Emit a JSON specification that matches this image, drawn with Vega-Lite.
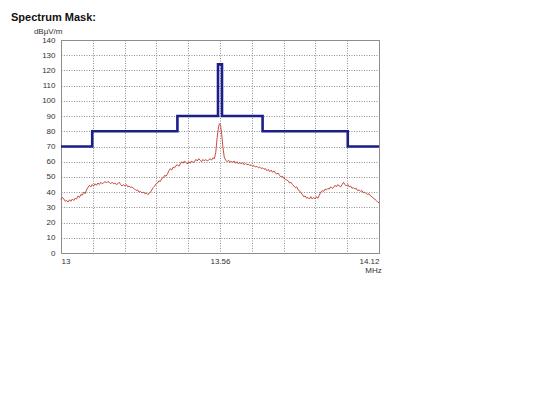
{
  "$schema": "https://vega.github.io/schema/vega-lite/v6.json",
  "autosize": {"type": "none"},
  "width": 318,
  "height": 213,
  "padding": {"left": 61, "top": 40, "right": 161, "bottom": 152},
  "background": "white",
  "title": {"text": "Spectrum Mask:", "anchor": "start", "frame": "group", "dx": -50, "offset": 4, "font": "Liberation Sans", "fontSize": 11, "fontWeight": "bold", "color": "#111111"},
  "config": {
    "view": {"stroke": "#8c8c8c", "strokeWidth": 1},
    "font": "Liberation Sans"
  },
  "datasets": {
    "mask": [
      {"f": 13.0, "db": 70},
      {"f": 13.11, "db": 80},
      {"f": 13.41, "db": 90},
      {"f": 13.553, "db": 124},
      {"f": 13.567, "db": 90},
      {"f": 13.71, "db": 80},
      {"f": 14.01, "db": 70},
      {"f": 14.12, "db": 70}
    ],
    "trace": [
      {"f": 13.0, "db": 35}, {"f": 13.005, "db": 36.5}, {"f": 13.01, "db": 35.5}, {"f": 13.015, "db": 34}, {"f": 13.02, "db": 34.5}, {"f": 13.025, "db": 33.5},
      {"f": 13.03, "db": 35}, {"f": 13.035, "db": 34}, {"f": 13.04, "db": 35.5}, {"f": 13.045, "db": 34.5}, {"f": 13.05, "db": 36}, {"f": 13.055, "db": 35.5},
      {"f": 13.06, "db": 37.5}, {"f": 13.065, "db": 36.5}, {"f": 13.07, "db": 38.5}, {"f": 13.075, "db": 38}, {"f": 13.08, "db": 40}, {"f": 13.085, "db": 39},
      {"f": 13.09, "db": 41.5}, {"f": 13.095, "db": 43}, {"f": 13.1, "db": 44.5}, {"f": 13.105, "db": 43.5}, {"f": 13.11, "db": 45}, {"f": 13.115, "db": 44},
      {"f": 13.12, "db": 45.5}, {"f": 13.125, "db": 44.5}, {"f": 13.13, "db": 46}, {"f": 13.135, "db": 45}, {"f": 13.14, "db": 46.5}, {"f": 13.145, "db": 45.5},
      {"f": 13.15, "db": 46}, {"f": 13.155, "db": 47}, {"f": 13.16, "db": 46}, {"f": 13.165, "db": 47}, {"f": 13.17, "db": 46.5}, {"f": 13.175, "db": 45.5},
      {"f": 13.18, "db": 46.5}, {"f": 13.185, "db": 45.5}, {"f": 13.19, "db": 46}, {"f": 13.195, "db": 45}, {"f": 13.2, "db": 45.5}, {"f": 13.205, "db": 46.5},
      {"f": 13.21, "db": 45}, {"f": 13.215, "db": 44}, {"f": 13.22, "db": 45}, {"f": 13.225, "db": 44}, {"f": 13.23, "db": 45}, {"f": 13.235, "db": 43.5},
      {"f": 13.24, "db": 44}, {"f": 13.245, "db": 43}, {"f": 13.25, "db": 43.5}, {"f": 13.255, "db": 42.5}, {"f": 13.26, "db": 42}, {"f": 13.265, "db": 41},
      {"f": 13.27, "db": 41.5}, {"f": 13.275, "db": 40}, {"f": 13.28, "db": 40.5}, {"f": 13.285, "db": 39.5}, {"f": 13.29, "db": 40}, {"f": 13.295, "db": 39},
      {"f": 13.3, "db": 39.5}, {"f": 13.305, "db": 38.5}, {"f": 13.31, "db": 39}, {"f": 13.315, "db": 40}, {"f": 13.32, "db": 41.5}, {"f": 13.325, "db": 43},
      {"f": 13.33, "db": 44}, {"f": 13.335, "db": 45.5}, {"f": 13.34, "db": 46}, {"f": 13.345, "db": 47.5}, {"f": 13.35, "db": 47}, {"f": 13.355, "db": 49},
      {"f": 13.36, "db": 49.5}, {"f": 13.365, "db": 51}, {"f": 13.37, "db": 50.5}, {"f": 13.375, "db": 52}, {"f": 13.38, "db": 54}, {"f": 13.385, "db": 55.5},
      {"f": 13.39, "db": 54.5}, {"f": 13.395, "db": 56.5}, {"f": 13.4, "db": 56}, {"f": 13.405, "db": 57.5}, {"f": 13.41, "db": 58}, {"f": 13.415, "db": 57},
      {"f": 13.42, "db": 58.5}, {"f": 13.425, "db": 60}, {"f": 13.43, "db": 59}, {"f": 13.435, "db": 60.5}, {"f": 13.44, "db": 59.5}, {"f": 13.445, "db": 58.5},
      {"f": 13.45, "db": 60}, {"f": 13.455, "db": 59}, {"f": 13.46, "db": 60.5}, {"f": 13.465, "db": 59.5}, {"f": 13.47, "db": 60}, {"f": 13.475, "db": 61.5},
      {"f": 13.48, "db": 60.5}, {"f": 13.485, "db": 62}, {"f": 13.49, "db": 61}, {"f": 13.495, "db": 60}, {"f": 13.5, "db": 61.5}, {"f": 13.505, "db": 60.5},
      {"f": 13.51, "db": 61.5}, {"f": 13.515, "db": 60.5}, {"f": 13.52, "db": 61}, {"f": 13.525, "db": 62}, {"f": 13.53, "db": 61}, {"f": 13.535, "db": 62.5},
      {"f": 13.54, "db": 62}, {"f": 13.545, "db": 66}, {"f": 13.55, "db": 76}, {"f": 13.555, "db": 83}, {"f": 13.558, "db": 85}, {"f": 13.562, "db": 84},
      {"f": 13.566, "db": 78}, {"f": 13.57, "db": 70}, {"f": 13.575, "db": 63}, {"f": 13.58, "db": 61}, {"f": 13.585, "db": 60}, {"f": 13.59, "db": 61},
      {"f": 13.595, "db": 59.5}, {"f": 13.6, "db": 60.5}, {"f": 13.605, "db": 59.5}, {"f": 13.61, "db": 60.5}, {"f": 13.615, "db": 59}, {"f": 13.62, "db": 60},
      {"f": 13.625, "db": 58.5}, {"f": 13.63, "db": 59.5}, {"f": 13.635, "db": 58.5}, {"f": 13.64, "db": 59.5}, {"f": 13.645, "db": 58}, {"f": 13.65, "db": 59},
      {"f": 13.655, "db": 58}, {"f": 13.66, "db": 58.5}, {"f": 13.665, "db": 57.5}, {"f": 13.67, "db": 58}, {"f": 13.675, "db": 57}, {"f": 13.68, "db": 57.5},
      {"f": 13.685, "db": 56.5}, {"f": 13.69, "db": 57}, {"f": 13.695, "db": 56}, {"f": 13.7, "db": 56.5}, {"f": 13.705, "db": 55.5}, {"f": 13.71, "db": 56},
      {"f": 13.715, "db": 55}, {"f": 13.72, "db": 55.5}, {"f": 13.725, "db": 54}, {"f": 13.73, "db": 55}, {"f": 13.735, "db": 53.5}, {"f": 13.74, "db": 54.5},
      {"f": 13.745, "db": 53}, {"f": 13.75, "db": 54}, {"f": 13.755, "db": 52.5}, {"f": 13.76, "db": 52}, {"f": 13.765, "db": 52.5}, {"f": 13.77, "db": 51},
      {"f": 13.775, "db": 50}, {"f": 13.78, "db": 50.5}, {"f": 13.785, "db": 49}, {"f": 13.79, "db": 48.5}, {"f": 13.795, "db": 48}, {"f": 13.8, "db": 47.5},
      {"f": 13.805, "db": 46}, {"f": 13.81, "db": 46.5}, {"f": 13.815, "db": 45}, {"f": 13.82, "db": 44}, {"f": 13.825, "db": 43}, {"f": 13.83, "db": 43.5},
      {"f": 13.835, "db": 41.5}, {"f": 13.84, "db": 41}, {"f": 13.845, "db": 39.5}, {"f": 13.85, "db": 38.5}, {"f": 13.855, "db": 37}, {"f": 13.86, "db": 37.5},
      {"f": 13.865, "db": 36}, {"f": 13.87, "db": 36.5}, {"f": 13.875, "db": 35.5}, {"f": 13.88, "db": 37}, {"f": 13.885, "db": 35.5}, {"f": 13.89, "db": 36.5},
      {"f": 13.895, "db": 35.5}, {"f": 13.9, "db": 37}, {"f": 13.905, "db": 36}, {"f": 13.91, "db": 38}, {"f": 13.915, "db": 40}, {"f": 13.92, "db": 41},
      {"f": 13.925, "db": 40.5}, {"f": 13.93, "db": 42}, {"f": 13.935, "db": 41.5}, {"f": 13.94, "db": 42.5}, {"f": 13.945, "db": 42}, {"f": 13.95, "db": 43.5},
      {"f": 13.955, "db": 42.5}, {"f": 13.96, "db": 43}, {"f": 13.965, "db": 44.5}, {"f": 13.97, "db": 43.5}, {"f": 13.975, "db": 45}, {"f": 13.98, "db": 44},
      {"f": 13.985, "db": 43.5}, {"f": 13.99, "db": 45}, {"f": 13.995, "db": 46.5}, {"f": 14.0, "db": 45}, {"f": 14.005, "db": 44}, {"f": 14.01, "db": 45},
      {"f": 14.015, "db": 43.5}, {"f": 14.02, "db": 44}, {"f": 14.025, "db": 42.5}, {"f": 14.03, "db": 43}, {"f": 14.035, "db": 42}, {"f": 14.04, "db": 42.5},
      {"f": 14.045, "db": 41}, {"f": 14.05, "db": 41.5}, {"f": 14.055, "db": 40.5}, {"f": 14.06, "db": 41}, {"f": 14.065, "db": 39.5}, {"f": 14.07, "db": 40},
      {"f": 14.075, "db": 39}, {"f": 14.08, "db": 38.5}, {"f": 14.085, "db": 39}, {"f": 14.09, "db": 37.5}, {"f": 14.095, "db": 37}, {"f": 14.1, "db": 36},
      {"f": 14.105, "db": 35.5}, {"f": 14.11, "db": 34.5}, {"f": 14.115, "db": 33.5}, {"f": 14.12, "db": 33}
    ]
  },
  "encoding": {
    "x": {
      "field": "f",
      "type": "quantitative",
      "scale": {"domain": [13, 14.12], "nice": false, "zero": false},
      "axis": {
        "values": [13, 13.112, 13.224, 13.336, 13.448, 13.56, 13.672, 13.784, 13.896, 14.008, 14.12],
        "labelExpr": "abs(datum.value-13)<0.001 ? '13' : abs(datum.value-13.56)<0.001 ? '13.56' : abs(datum.value-14.12)<0.001 ? '14.12' : ''",
        "title": "MHz",
        "titleX": 312,
        "titleY": 19,
        "titleAlign": "center",
        "titleBaseline": "alphabetic",
        "titleFont": "Liberation Sans",
        "titleFontSize": 8,
        "titleFontWeight": "normal",
        "titleColor": "#333333",
        "labelFont": "Liberation Sans",
        "labelFontSize": 8,
        "labelColor": "#333333",
        "labelPadding": 4,
        "ticks": false,
        "domain": false,
        "grid": true,
        "gridColor": "#8f8f8f",
        "gridDash": [1, 1.5],
        "gridWidth": 1,
        "labelOverlap": false
      }
    },
    "y": {
      "field": "db",
      "type": "quantitative",
      "scale": {"domain": [0, 140], "nice": false},
      "axis": {
        "values": [0, 10, 20, 30, 40, 50, 60, 70, 80, 90, 100, 110, 120, 130, 140],
        "title": "dBµV/m",
        "titleAngle": 0,
        "titleX": 1,
        "titleY": -7,
        "titleAlign": "right",
        "titleBaseline": "alphabetic",
        "titleFont": "Liberation Sans",
        "titleFontSize": 8,
        "titleFontWeight": "normal",
        "titleColor": "#333333",
        "labelFont": "Liberation Sans",
        "labelFontSize": 8,
        "labelColor": "#333333",
        "labelPadding": 6,
        "labelOverlap": false,
        "ticks": false,
        "domain": false,
        "grid": true,
        "gridColor": "#8f8f8f",
        "gridDash": [1, 1.5],
        "gridWidth": 1
      }
    }
  },
  "layer": [
    {
      "data": {"name": "trace"},
      "mark": {"type": "line", "color": "#c0392b", "strokeWidth": 0.9}
    },
    {
      "data": {"name": "mask"},
      "mark": {"type": "line", "color": "#1c1f8a", "strokeWidth": 2.6, "interpolate": "step-after"}
    }
  ]
}
